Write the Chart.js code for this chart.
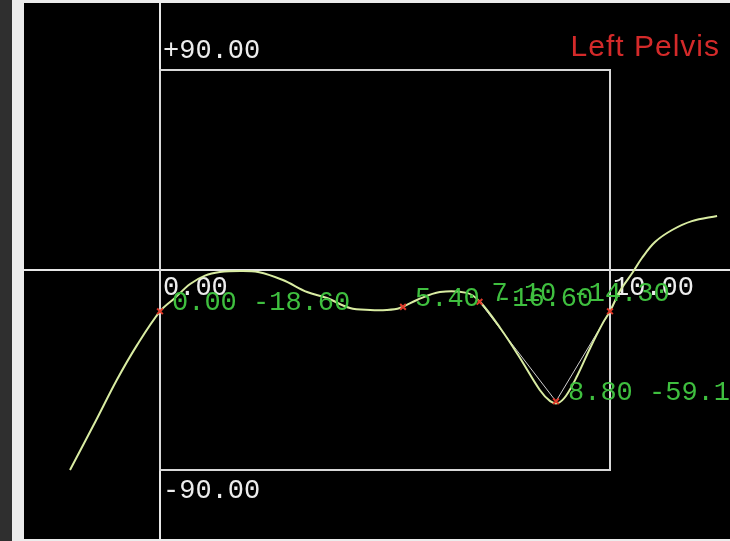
<!DOCTYPE html>
<html>
<head>
<meta charset="utf-8">
<script src="https://cdn.jsdelivr.net/npm/chart.js@4.4.1/dist/chart.umd.min.js"></script>
<style>
  html, body { margin: 0; padding: 0; }
  body { width: 730px; height: 541px; background: #ececec; position: relative; overflow: hidden; }
  #sidebar { position: absolute; left: 0; top: 0; width: 12px; height: 541px; background: #2f2f2f; }
  #plot { position: absolute; left: 24px; top: 3px; width: 706px; height: 536px; background: #000; }
</style>
</head>
<body>
<div id="sidebar"></div>
<div id="plot"><canvas id="pelvisChart" width="706" height="536"></canvas></div>
<script>
// Pelvis angle over the cycle (smoothed trace)
const curveX = [-2.00, -1.44, -0.96, -0.51, 0.00, 0.33, 0.67, 1.00, 1.33, 1.78, 2.18, 2.73, 3.27, 3.71,
                4.22, 4.67, 5.04, 5.33, 5.71, 6.22, 6.82, 7.11, 7.56, 8.00, 8.44, 8.67, 8.84, 9.02, 9.27,
                9.56, 9.84, 10.00, 10.22, 10.51, 10.71, 11.00, 11.38, 11.82, 12.38];
const curveY = [-90.0, -68.4, -49.5, -33.8, -18.6, -12.6, -6.3, -2.5, -0.9, -0.4, -0.9, -4.5, -9.9, -12.6,
                -17.1, -18.0, -18.0, -17.1, -13.5, -9.9, -10.3, -14.3, -26.1, -39.6, -54.0, -59.0, -59.9, -56.7, -47.7,
                -35.1, -23.9, -18.6, -9.5, -0.9, 5.4, 12.6, 18.0, 22.0, 24.3];

// Key frames (editable control points)
const keyX = [0.00, 5.40, 7.10, 8.80, 10.00];
const keyY = [-18.60, -16.60, -14.30, -59.10, -18.60];
const keyLabelled = [true, true, true, true, false];

// Axis range and tick labels
const xMin = -3.022, xMax = 12.667;
const yMin = -121.05, yMax = 120.15;
const yTicks = [90, -90];
const xTicks = [0, 10];
const title = 'Left Pelvis';

const monoFont = '27px "Liberation Mono", "DejaVu Sans Mono", monospace';

function fmtSigned(v) {
    return (v > 0 ? '+' : '') + v.toFixed(2);
}

const framePlugin = {
    id: 'frame',
    beforeDatasetsDraw(chart) {
        const { ctx, chartArea, scales } = chart;
        const x = scales.x, y = scales.y;
        ctx.save();
        ctx.strokeStyle = '#e6e6e6';
        ctx.lineWidth = 2;
        // zero axes across the whole plot
        const x0 = Math.round(x.getPixelForValue(0));
        const y0 = Math.round(y.getPixelForValue(0));
        ctx.beginPath();
        ctx.moveTo(x0, chartArea.top);
        ctx.lineTo(x0, chartArea.bottom);
        ctx.moveTo(chartArea.left, y0);
        ctx.lineTo(chartArea.right, y0);
        ctx.stroke();
        // range box
        const bx1 = x.getPixelForValue(xTicks[0]), bx2 = x.getPixelForValue(xTicks[1]);
        const by1 = y.getPixelForValue(yTicks[0]), by2 = y.getPixelForValue(yTicks[1]);
        ctx.strokeStyle = '#d8d8d8';
        ctx.strokeRect(Math.round(bx1), Math.round(by1), Math.round(bx2 - bx1), Math.round(by2 - by1));

        // tick labels
        ctx.fillStyle = '#ededed';
        ctx.font = monoFont;
        ctx.textBaseline = 'alphabetic';
        ctx.textAlign = 'left';
        ctx.fillText(fmtSigned(yTicks[0]), bx1 + 3, by1 - 12);
        ctx.fillText(fmtSigned(yTicks[1]), bx1 + 3, by2 + 28);
        xTicks.forEach(v => {
            ctx.fillText(v.toFixed(2), x.getPixelForValue(v) + 3, y0 + 25);
        });

        // title
        ctx.fillStyle = '#d42a2a';
        ctx.font = '30px "Liberation Sans", Arial, sans-serif';
        ctx.letterSpacing = '1px';
        ctx.textAlign = 'right';
        ctx.fillText(title, chartArea.right - 10, 53);
        ctx.restore();
    },
    afterDatasetsDraw(chart) {
        const { ctx, scales } = chart;
        ctx.save();
        ctx.font = monoFont;
        ctx.fillStyle = '#3fbf3f';
        ctx.textAlign = 'left';
        ctx.textBaseline = 'alphabetic';
        keyX.forEach((kx, i) => {
            if (!keyLabelled[i]) return;
            const px = scales.x.getPixelForValue(kx);
            const py = scales.y.getPixelForValue(keyY[i]);
            ctx.fillText(kx.toFixed(2) + ' ' + keyY[i].toFixed(2), px + 12, py - 1);
        });
        ctx.restore();
    }
};

const ctx = document.getElementById('pelvisChart').getContext('2d');

new Chart(ctx, {
    type: 'line',
    data: {
        datasets: [
            {
                label: 'Key frames',
                data: keyX.map((v, i) => ({ x: v, y: keyY[i] })),
                borderWidth: 1,
                tension: 0,
                pointRadius: 0,
                // the guide is only visible where it leaves the smoothed trace
                segment: {
                    borderColor: c => c.p0DataIndex < 2 ? 'rgba(0,0,0,0)' : '#cfcfcf'
                },
                order: 3
            },
            {
                label: 'Pelvis',
                data: curveX.map((v, i) => ({ x: v, y: curveY[i] })),
                borderColor: '#d9eca2',
                borderWidth: 2,
                tension: 0.35,
                pointRadius: 0,
                order: 2
            },
            {
                label: 'Markers',
                data: keyX.map((v, i) => ({ x: v, y: keyY[i] })),
                showLine: false,
                pointStyle: 'crossRot',
                pointRadius: 4,
                pointBorderWidth: 2,
                pointBorderColor: '#e03a2a',
                order: 1
            }
        ]
    },
    options: {
        responsive: false,
        animation: false,
        layout: { padding: 0, autoPadding: false },
        plugins: {
            legend: { display: false },
            tooltip: { enabled: false }
        },
        scales: {
            x: { type: 'linear', min: xMin, max: xMax, display: false },
            y: { type: 'linear', min: yMin, max: yMax, display: false }
        }
    },
    plugins: [framePlugin]
});
</script>
</body>
</html>
